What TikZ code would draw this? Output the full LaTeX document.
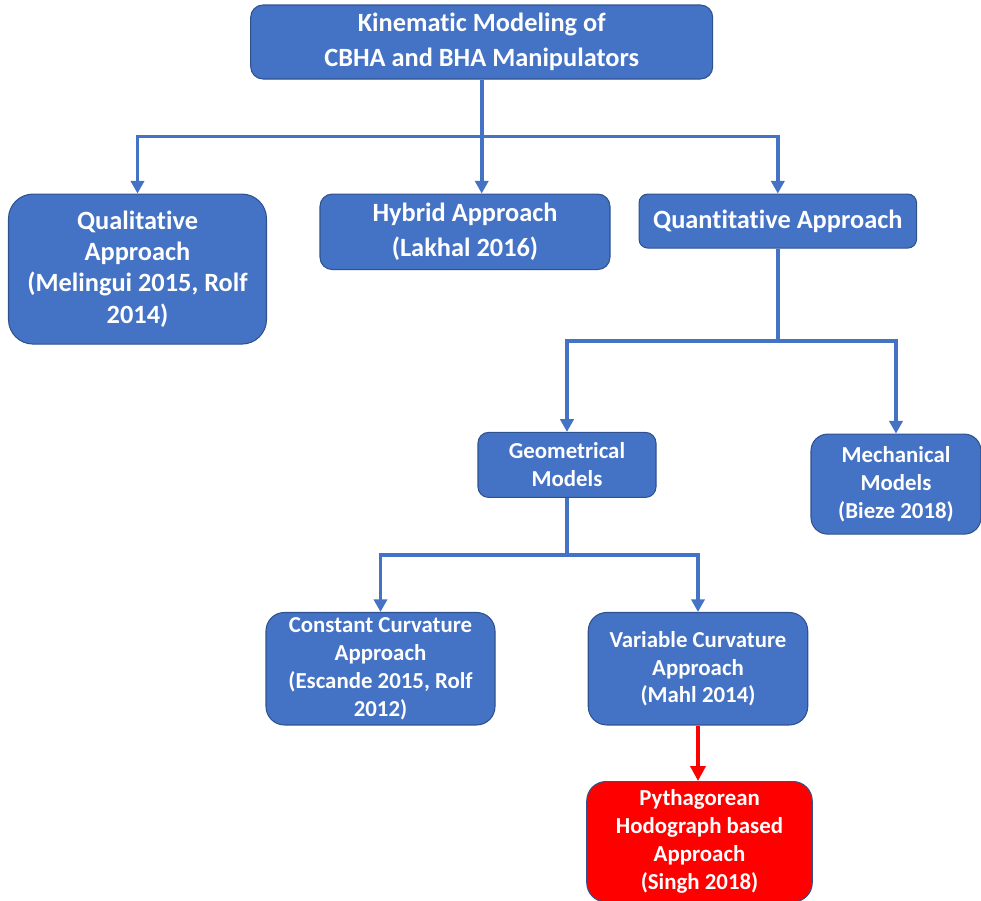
\documentclass[tikz,border=0pt]{standalone}
\usepackage{fontspec}
\setmainfont{Carlito}[Ligatures=NoCommon]
\usepackage{tikz}
\usetikzlibrary{arrows.meta,positioning}

\definecolor{boxblue}{HTML}{4472C4}
\definecolor{boxline}{HTML}{2F528F}
\definecolor{boxred}{HTML}{FF0000}

\begin{document}
\begin{tikzpicture}[box/.style={draw=boxline,line width=0.6pt,fill=boxblue,
                            text=white,align=center,inner sep=2pt},
                    big/.style={font=\fontsize{15}{19.8}\selectfont\bfseries},
                    small/.style={font=\fontsize{13}{15.9}\selectfont\bfseries},
                    conn/.style={draw=boxblue,line width=2.2pt,
                            -{Triangle[width=7.5pt,length=7.2pt]}},
                    redconn/.style={draw=boxred,line width=2.2pt,
                            -{Triangle[width=8.5pt,length=8.5pt]}}]

        \useasboundingbox (0,0) rectangle (19.62,-18);

        \node[box,big]   (top)                    at (9.634,-0.84)
              [minimum width=9.24cm,minimum height=1.48cm,rounded corners=7pt]
              {Kinematic Modeling of\\CBHA and BHA Manipulators};

        \node[box,big]   (qual)  [below=2.28cm of top,xshift=-6.884cm,
              minimum width=5.16cm,minimum height=3cm,rounded corners=14pt,
              font=\fontsize{15}{17.8}\selectfont\bfseries]
              {Qualitative\\Approach\\(Melingui 2015, Rolf\\2014)};
        \node[box,big]   (hyb)   [below=2.28cm of top,xshift=-0.334cm,
              minimum width=5.8cm,minimum height=1.51cm,rounded corners=7pt]
              {Hybrid Approach\\(Lakhal 2016)};
        \node[box,big]   (quan)  [below=2.28cm of top,xshift=5.922cm,
              minimum width=5.55cm,minimum height=1.08cm,rounded corners=5pt]
              {Quantitative Approach};

        \node[box,small] (geo)   [below=3.666cm of quan,xshift=-4.216cm,
              minimum width=3.56cm,minimum height=1.3cm,rounded corners=6pt]
              {Geometrical\\Models};
        \node[box,small] (mech)  [below=3.7cm of quan,xshift=2.364cm,
              minimum width=3.4cm,minimum height=2cm,rounded corners=9.5pt]
              {Mechanical\\Models\\(Bieze 2018)};

        \node[box,small] (const) [below=2.28cm of geo,xshift=-3.73cm,
              minimum width=4.58cm,minimum height=2.25cm,rounded corners=10.5pt]
              {Constant Curvature\\Approach\\(Escande 2015, Rolf\\2012)};
        \node[box,small] (var)   [below=2.28cm of geo,xshift=2.62cm,
              minimum width=4.39cm,minimum height=2.25cm,rounded corners=10.5pt]
              {Variable Curvature\\Approach\\(Mahl 2014)};

        \node[box,small] (pyth)  [below=1.11cm of var,xshift=0.03cm,fill=boxred,
              minimum width=4.51cm,minimum height=2.41cm,rounded corners=11pt]
              {Pythagorean\\Hodograph based\\Approach\\(Singh 2018)};

        % forks
        \path (top.south)  ++(0,-1.14)  coordinate (fork1);
        \path (quan.south) ++(0,-1.846) coordinate (fork2);
        \path (geo.south)  ++(0,-1.134) coordinate (fork3);

        \draw[boxblue,line width=2.2pt] (top.south) -- (fork1);
        \draw[conn] (fork1) -| (qual.north);
        \draw[conn] (fork1) -- (fork1 |- hyb.north);
        \draw[conn] (fork1) -| (quan.north);

        \draw[boxblue,line width=2.2pt] (quan.south) -- (fork2);
        \draw[conn] (fork2) -| (geo.north);
        \draw[conn] (fork2) -| (mech.north);

        \draw[boxblue,line width=2.2pt] (geo.south) -- (fork3);
        \draw[conn] (fork3) -| (const.north);
        \draw[conn] (fork3) -| (var.north);

        \draw[redconn] (var.south) -- (var.south |- pyth.north);

        \end{tikzpicture}
\end{document}
